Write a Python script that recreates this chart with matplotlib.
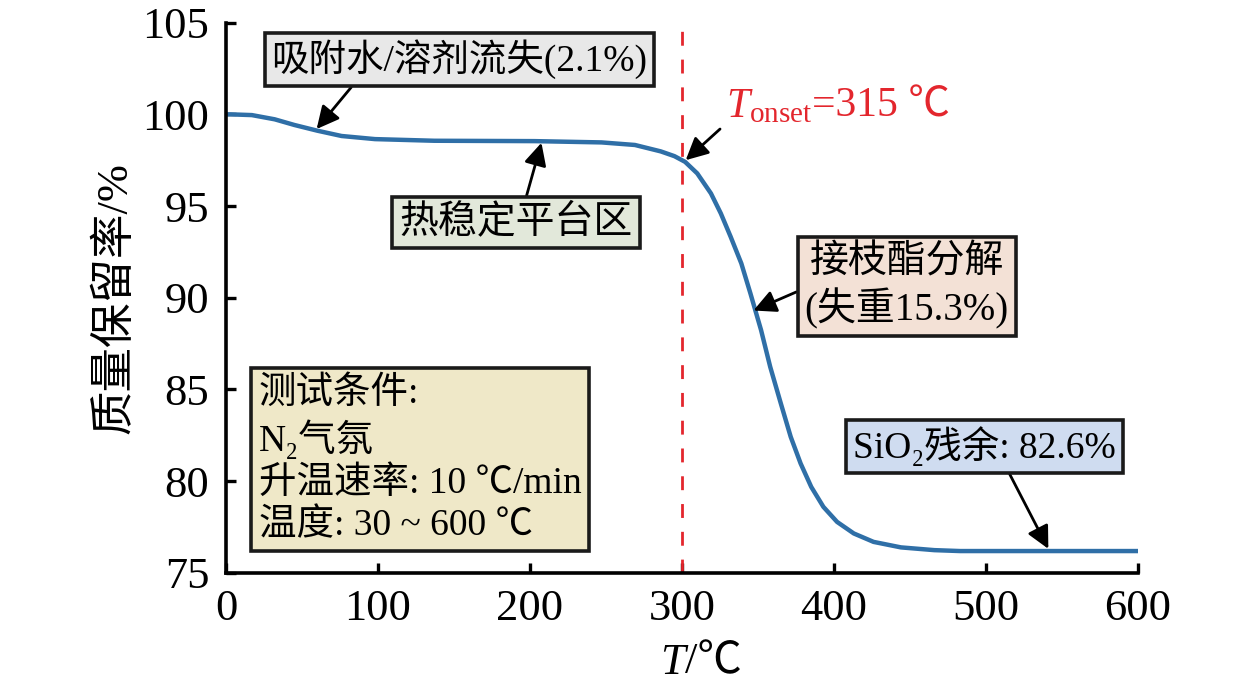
import matplotlib
matplotlib.use('Agg')
from matplotlib import pyplot as plt
from matplotlib.offsetbox import TextArea, HPacker, AnnotationBbox

plt.rcParams['font.family'] = ['Liberation Serif', 'Noto Sans CJK SC', 'DejaVu Serif']
plt.rcParams['mathtext.fontset'] = 'custom'
plt.rcParams['mathtext.rm'] = 'Liberation Serif'
plt.rcParams['mathtext.it'] = 'Liberation Serif:italic'

# TGA curve
temp = [0, 3, 17, 32, 45, 60, 76, 98, 137, 203, 247, 269, 286, 295, 302, 310, 319,
        325.5, 332, 339, 345, 352, 358, 365, 371.5, 378, 385, 393, 402, 413, 426,
        444, 466, 483, 540, 600]
mass = [100.0, 100.0, 99.96, 99.73, 99.42, 99.11, 98.82, 98.65, 98.56, 98.54, 98.47,
        98.33, 97.98, 97.72, 97.41, 96.78, 95.69, 94.6, 93.32, 91.87, 90.23, 88.23,
        86.23, 84.23, 82.41, 80.96, 79.68, 78.59, 77.77, 77.14, 76.68, 76.38, 76.23,
        76.18, 76.18, 76.18]

x_ticks = [0, 100, 200, 300, 400, 500, 600]
y_ticks = [75, 80, 85, 90, 95, 100, 105]
onset_line = 300

line_col = '#2f6fa7'
red = '#e3262d'

fig = plt.figure(figsize=(12.6, 6.94), dpi=100)
ax = fig.add_axes([0.1794, 0.1748, 0.7238, 0.7925])

ax.plot(temp, mass, color=line_col, lw=3.2, solid_capstyle='butt')
ax.axvline(onset_line, color=red, lw=2, dashes=(5, 5))

ax.set_xlim(0, 600)
ax.set_ylim(75, 105)
ax.set_xticks(x_ticks)
ax.set_yticks(y_ticks)
for s in ['top', 'right']:
    ax.spines[s].set_visible(False)
for s in ['left', 'bottom']:
    ax.spines[s].set_linewidth(2.6)
ax.tick_params(direction='in', length=7, width=2.4, labelsize=32, pad=12)

ax.set_ylabel('质量保留率/%', fontsize=32, labelpad=5)

# x label: italic T + /℃
t_lab = ax.text(0.503, -0.2, 'T', style='italic', fontsize=32, ha='right', va='bottom',
                transform=ax.transAxes)
ax.annotate('/℃', xy=(1, 0), xycoords=t_lab, fontsize=32, ha='left', va='bottom')


def arw(rel):
    return dict(arrowstyle='-|>', color='black', lw=2, mutation_scale=34,
                shrinkA=0, shrinkB=0, relpos=rel)


def boxed(txt, xy, xytext, fc, rel, size=27, **kw):
    ax.annotate(txt, xy=xy, xytext=xytext, fontsize=size, ha='center', va='center',
                bbox=dict(boxstyle='square,pad=0.18', fc=fc, ec='#1a1a1a', lw=2.6),
                arrowprops=arw(rel), **kw)


boxed('吸附水/溶剂流失(2.1%)', (59.6, 99.2), (153.5, 103.0), '#e8e8e8', (0.23, 0))
boxed('热稳定平台区', (207.5, 98.45), (190.8, 94.1), '#e2e8da', (0.535, 1), size=28)
boxed('接枝酯分解\n(失重15.3%)', (347, 89.3), (447.8, 90.6), '#f3e1d6', (0, 0.48),
      size=28, linespacing=1.2)
boxed('SiO₂残余: 82.6%', (541, 76.3), (499, 81.9), '#cfdcf0', (0.58, 0))

# test conditions box
ax.text(21.5, 81.17, '测试条件:\nN₂气氛\n升温速率: 10 ℃/min\n温度: 30 ~ 600 ℃',
        fontsize=27, ha='left', va='center', linespacing=1.28,
        bbox=dict(boxstyle='square,pad=0.2', fc='#efe8c8', ec='#1a1a1a', lw=2.6))

# onset annotation
ax.annotate('', xy=(302.4, 97.5), xytext=(325, 99.2), arrowprops=arw((0.5, 0.5)))
pk = HPacker(children=[TextArea(r'$T_{\mathrm{onset}}$', textprops=dict(color=red, fontsize=30)),
                       TextArea('=315 ℃', textprops=dict(color=red, fontsize=30))],
             align='baseline', pad=0, sep=0)
ab = AnnotationBbox(pk, (328.6, 100.0), xycoords='data', box_alignment=(0, 0.3),
                    frameon=False)
ax.add_artist(ab)

fig.savefig('out.png', dpi=100)
